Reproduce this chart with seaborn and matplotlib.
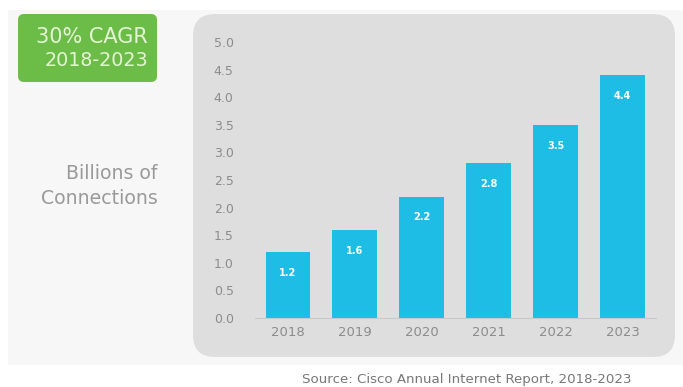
import matplotlib
matplotlib.use("Agg")
import matplotlib.pyplot as plt
from matplotlib.patches import FancyBboxPatch, Rectangle
from matplotlib.transforms import IdentityTransform
import seaborn as sns
import pandas as pd

years = ["2018", "2019", "2020", "2021", "2022", "2023"]
connections = [1.2, 1.6, 2.2, 2.8, 3.5, 4.4]
value_labels = ["1.2", "1.6", "2.2", "2.8", "3.5", "4.4"]
y_ticks = [0.0, 0.5, 1.0, 1.5, 2.0, 2.5, 3.0, 3.5, 4.0, 4.5, 5.0]

df = pd.DataFrame({"year": years, "connections": connections})

sns.set_theme(style="white")
plt.rcParams["font.family"] = ["DejaVu Sans"]

W, H = 683, 387
fig = plt.figure(figsize=(W / 100, H / 100), dpi=100, facecolor="white")
px = IdentityTransform()

# soft backdrop and rounded chart panel (pixel coordinates, origin bottom-left)
fig.add_artist(Rectangle((8, H - 365), W - 8, 355, transform=px,
                         facecolor="#f7f7f7", edgecolor="none", zorder=0))
fig.add_artist(FancyBboxPatch((193, H - 357), 482, 343, transform=px,
                              boxstyle="round,pad=0,rounding_size=22",
                              facecolor="#dedede", edgecolor="none", zorder=0.5))

# green CAGR badge
fig.add_artist(FancyBboxPatch((18, H - 82), 139, 68, transform=px,
                              boxstyle="round,pad=0,rounding_size=6",
                              facecolor="#6cbd48", edgecolor="none", zorder=1))
fig.text(148 / W, 1 - 37 / H, "30% CAGR", ha="right", va="center",
         fontsize=15, color="#e4f4d4")
fig.text(148 / W, 1 - 61 / H, "2018-2023", ha="right", va="center",
         fontsize=13.8, color="#e4f4d4")

fig.text(158 / W, 1 - 173 / H, "Billions of", ha="right", va="center",
         fontsize=13.6, color="#9a9a9a")
fig.text(158 / W, 1 - 198 / H, "Connections", ha="right", va="center",
         fontsize=13.6, color="#9a9a9a")

ax = fig.add_axes([254.5 / W, 1 - 318 / H, 401.5 / W, 276 / H])
ax.patch.set_alpha(0)
ax.set_zorder(2)

sns.barplot(data=df, x="year", y="connections", color="#1dbde6",
            saturation=1, width=0.67, linewidth=0, ax=ax)

for i, (v, lab) in enumerate(zip(connections, value_labels)):
    ax.annotate(lab, (i, v), xytext=(0, -15), textcoords="offset points",
                ha="center", va="center", fontsize=7, fontweight="bold",
                color="white")

ax.set_xlim(-0.5, 5.5)
ax.set_ylim(0, 5.0)
ax.set_yticks(y_ticks)
ax.set_yticklabels([f"{t:.1f}" for t in y_ticks])
ax.set_xlabel("")
ax.set_ylabel("")
ax.tick_params(axis="y", length=0, pad=15, labelsize=9, labelcolor="#8c8c8c")
ax.tick_params(axis="x", length=0, pad=6, labelsize=9.5, labelcolor="#8c8c8c")
for side in ["top", "right", "left"]:
    ax.spines[side].set_visible(False)
ax.spines["bottom"].set_color("#c9c9c9")
ax.spines["bottom"].set_linewidth(0.8)

fig.text(467 / W, 1 - 380 / H, "Source: Cisco Annual Internet Report, 2018-2023",
         ha="center", va="center", fontsize=9.6, color="#777777")

fig.savefig("out.png", dpi=100, facecolor="white")
